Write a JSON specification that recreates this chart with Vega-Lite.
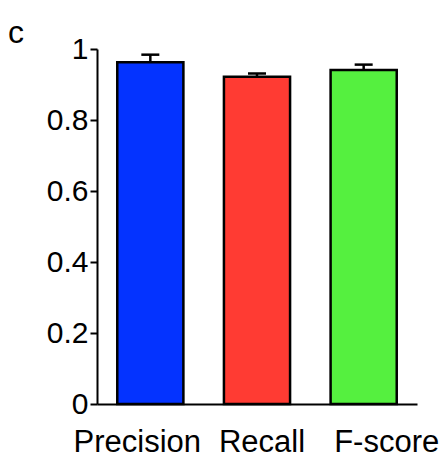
{
  "$schema": "https://vega.github.io/schema/vega-lite/v6.json",
  "autosize": "none",
  "width": 320,
  "height": 355,
  "padding": {"left": 97, "top": 49, "right": 28, "bottom": 54},
  "background": "white",
  "title": {
    "text": "c",
    "anchor": "start",
    "frame": "group",
    "orient": "top",
    "dx": -89,
    "dy": 16,
    "offset": 0,
    "font": "Liberation Sans",
    "fontSize": 32,
    "fontWeight": "normal",
    "color": "black"
  },
  "data": {
    "values": [
      {"metric": "Precision", "value": 0.963, "upper": 0.984},
      {"metric": "Recall", "value": 0.922, "upper": 0.931},
      {"metric": "F-score", "value": 0.941, "upper": 0.956}
    ]
  },
  "config": {
    "view": {"stroke": null},
    "axis": {
      "labelFont": "Liberation Sans",
      "labelFontSize": 30,
      "labelColor": "black",
      "domainColor": "black",
      "domainWidth": 2,
      "tickColor": "black",
      "tickWidth": 2,
      "grid": false,
      "title": null
    }
  },
  "encoding": {
    "x": {
      "field": "metric",
      "type": "nominal",
      "sort": ["Precision", "Recall", "F-score"],
      "scale": {"paddingInner": 0.38, "paddingOuter": 0.19},
      "axis": {
        "labelAngle": 0,
        "ticks": false,
        "labelPadding": 23,
        "labelFontSize": 31,
        "labelOffset": {"expr": "datum.value == 'Precision' ? -13 : datum.value == 'Recall' ? 5 : 23"}
      }
    }
  },
  "layer": [
    {
      "mark": {"type": "rule", "strokeWidth": 2.5, "color": "black"},
      "encoding": {
        "y": {"field": "value", "type": "quantitative"},
        "y2": {"field": "upper"}
      }
    },
    {
      "mark": {"type": "tick", "thickness": 2.5, "size": 18, "color": "black", "opacity": 1},
      "encoding": {
        "y": {"field": "upper", "type": "quantitative"}
      }
    },
    {
      "mark": {"type": "bar", "stroke": "black", "strokeWidth": 2.5, "opacity": 1},
      "encoding": {
        "y": {
          "field": "value",
          "type": "quantitative",
          "scale": {"domain": [0, 1], "nice": false},
          "axis": {"values": [0, 0.2, 0.4, 0.6, 0.8, 1], "format": "~g", "tickSize": 7, "labelPadding": 2}
        },
        "color": {
          "field": "metric",
          "type": "nominal",
          "scale": {"domain": ["Precision", "Recall", "F-score"], "range": ["#0433FF", "#FF3B33", "#55F03F"]},
          "legend": null
        }
      }
    }
  ]
}
